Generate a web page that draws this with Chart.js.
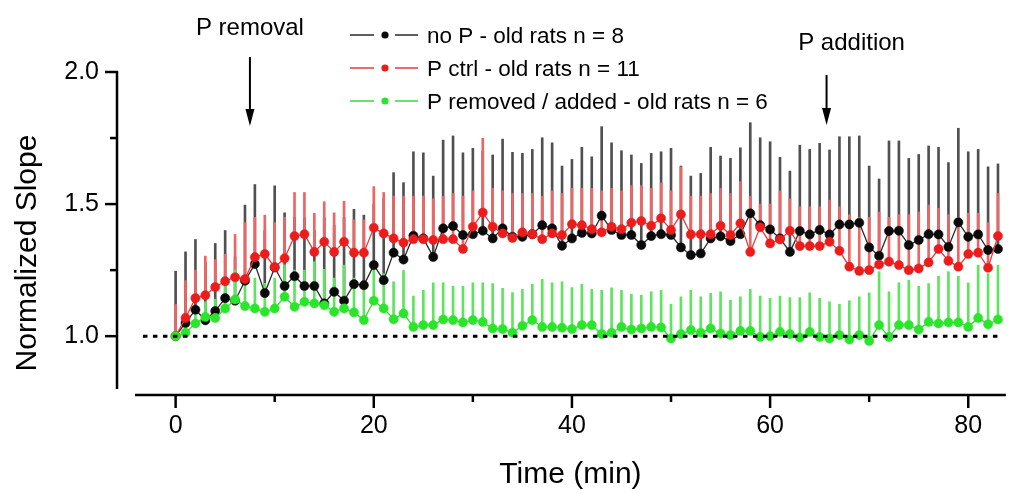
<!DOCTYPE html>
<html><head><meta charset="utf-8">
<script src="https://cdn.jsdelivr.net/npm/chart.js@4.4.1/dist/chart.umd.min.js"></script>
<style>html,body{margin:0;padding:0;background:#fff}#wrap{width:1011px;height:493px;position:relative}</style>
</head><body><div id="wrap"><canvas id="c"></canvas></div>
<script>
const times = [0,1,2,3,4,5,6,7,8,9,10,11,12,13,14,15,16,17,18,19,20,21,22,23,24,25,26,27,28,29,30,31,32,33,34,35,36,37,38,39,40,41,42,43,44,45,46,47,48,49,50,51,52,53,54,55,56,57,58,59,60,61,62,63,64,65,66,67,68,69,70,71,72,73,74,75,76,77,78,79,80,81,82,83];

const noPMean = [1.0,1.05,1.10,1.06,1.095,1.144,1.134,1.21,1.273,1.163,1.26,1.19,1.227,1.19,1.19,1.124,1.168,1.134,1.197,1.193,1.269,1.212,1.316,1.29,1.38,1.37,1.30,1.408,1.417,1.383,1.386,1.399,1.370,1.408,1.376,1.376,1.386,1.420,1.408,1.342,1.370,1.391,1.389,1.456,1.402,1.383,1.383,1.345,1.379,1.386,1.383,1.336,1.307,1.313,1.370,1.378,1.360,1.386,1.465,1.420,1.404,1.37,1.319,1.398,1.385,1.402,1.385,1.423,1.423,1.429,1.336,1.304,1.398,1.399,1.345,1.364,1.386,1.385,1.338,1.431,1.376,1.385,1.326,1.330];
const noPHigh = [1.246,1.319,1.366,1.28,1.351,1.40,1.30,1.496,1.574,1.40,1.569,1.467,1.45,1.45,1.40,1.45,1.42,1.45,1.48,1.458,1.50,1.52,1.619,1.581,1.698,1.694,1.606,1.742,1.758,1.694,1.711,1.70,1.686,1.746,1.696,1.692,1.707,1.751,1.732,1.644,1.669,1.715,1.679,1.793,1.732,1.702,1.686,1.654,1.692,1.698,1.711,1.644,1.606,1.616,1.715,1.682,1.673,1.713,1.808,1.751,1.736,1.677,1.625,1.723,1.707,1.730,1.705,1.755,1.755,1.758,1.644,1.595,1.739,1.739,1.673,1.688,1.720,1.715,1.657,1.787,1.698,1.707,1.641,1.652];

const ctrlMean = [1.0,1.069,1.144,1.155,1.186,1.208,1.223,1.216,1.299,1.311,1.261,1.295,1.379,1.386,1.319,1.357,1.319,1.357,1.316,1.316,1.410,1.389,1.370,1.354,1.367,1.367,1.364,1.367,1.367,1.330,1.414,1.468,1.414,1.389,1.372,1.393,1.386,1.367,1.389,1.383,1.424,1.420,1.405,1.393,1.414,1.405,1.429,1.436,1.418,1.446,1.402,1.461,1.385,1.386,1.386,1.418,1.383,1.427,1.319,1.412,1.351,1.366,1.399,1.341,1.341,1.341,1.357,1.323,1.263,1.247,1.25,1.271,1.282,1.269,1.25,1.256,1.279,1.330,1.285,1.263,1.311,1.316,1.259,1.379];
const ctrlHigh = [1.12,1.21,1.25,1.303,1.29,1.31,1.385,1.43,1.45,1.458,1.43,1.45,1.544,1.544,1.465,1.509,1.467,1.511,1.44,1.44,1.566,1.544,1.53,1.53,1.53,1.53,1.52,1.53,1.54,1.53,1.55,1.749,1.56,1.55,1.54,1.54,1.54,1.53,1.55,1.54,1.56,1.56,1.56,1.55,1.56,1.55,1.57,1.57,1.56,1.58,1.55,1.64,1.53,1.53,1.54,1.56,1.54,1.585,1.53,1.50,1.50,1.55,1.52,1.49,1.49,1.49,1.515,1.49,1.46,1.45,1.45,1.47,1.45,1.46,1.46,1.47,1.496,1.484,1.46,1.45,1.465,1.465,1.43,1.54];

const remMean = [1.0,1.013,1.048,1.073,1.069,1.105,1.139,1.114,1.105,1.092,1.105,1.149,1.111,1.130,1.124,1.117,1.092,1.105,1.090,1.061,1.134,1.105,1.064,1.086,1.035,1.042,1.042,1.063,1.061,1.052,1.061,1.054,1.029,1.027,1.013,1.039,1.061,1.035,1.035,1.032,1.027,1.042,1.042,1.008,1.013,1.035,1.025,1.029,1.035,1.033,0.991,1.008,1.023,1.013,1.029,1.010,1.004,1.020,1.020,0.997,1.0,1.016,1.008,0.995,1.016,0.997,0.991,1.004,0.987,1.004,0.982,1.042,0.997,1.042,1.042,1.025,1.054,1.048,1.052,1.052,1.035,1.069,1.045,1.063];
const remHigh = [1.0,1.04,1.10,1.13,1.14,1.19,1.25,1.20,1.22,1.20,1.22,1.27,1.25,1.25,1.282,1.253,1.22,1.269,1.22,1.20,1.27,1.237,1.206,1.25,1.152,1.174,1.202,1.202,1.189,1.189,1.202,1.202,1.199,1.181,1.165,1.177,1.197,1.215,1.202,1.206,1.184,1.197,1.177,1.174,1.183,1.174,1.159,1.155,1.168,1.174,1.121,1.149,1.174,1.149,1.162,1.168,1.136,1.149,1.177,1.152,1.143,1.152,1.146,1.146,1.164,1.143,1.130,1.121,1.134,1.149,1.164,1.244,1.168,1.202,1.212,1.189,1.199,1.227,1.244,1.227,1.202,1.269,1.237,1.269];

const seriesLabels = ['no P - old rats n = 8','P ctrl - old rats n = 11','P removed / added - old rats n = 6'];
const xTicks = [0,20,40,60,80];
const xMinorTicks = [10,30,50,70];
const yTicks = [1.0,1.5,2.0];
const yMinorTicks = [1.25,1.75];
const baseline = [{x:-3.3,y:1.0},{x:83.5,y:1.0}];
const removalTime = 7.5;
const additionTime = 65.7;

const FONT = '"Liberation Sans", Arial, sans-serif';
const colors = {
  black:{pt:'#0a0a0a', line:'#2a2a2a', bar:'#505050'},
  red:{pt:'#ec1c1c', line:'#e83a3a', bar:'#f06464'},
  green:{pt:'#2ae62a', line:'#3ad83a', bar:'#5ee45e'}
};

function pts(arr){ return times.map((t,i)=>({x:t,y:arr[i]})); }
function bars(lo,hi){ return times.map((t,i)=>({x:t,y:[lo[i],hi[i]]})); }

function lineDs(label,arr,c,order){
  return {type:'line',label,data:pts(arr),borderColor:c.line,borderWidth:1.3,
    pointRadius:4.6,pointBackgroundColor:c.pt,pointBorderColor:c.pt,pointBorderWidth:0.5,
    tension:0,order};
}
function barDs(lo,hi,c,order){
  return {type:'bar',data:bars(lo,hi),backgroundColor:c.bar,borderWidth:0,barThickness:2,grouped:false,order};
}

const deco = {
  id:'deco',
  afterDraw(chart){
    const {ctx, scales:{x,y}, chartArea:a} = chart;
    ctx.save();
    ctx.strokeStyle='#000'; ctx.fillStyle='#000'; ctx.lineWidth=2.5;
    const yAx = a.left-18, xAy = a.bottom+6;
    ctx.beginPath(); ctx.moveTo(yAx, a.top-1); ctx.lineTo(yAx, a.bottom); ctx.stroke();
    yTicks.forEach(v=>{const p=y.getPixelForValue(v); ctx.beginPath(); ctx.moveTo(yAx+1,p); ctx.lineTo(yAx-12,p); ctx.stroke();});
    yMinorTicks.forEach(v=>{const p=y.getPixelForValue(v); ctx.beginPath(); ctx.moveTo(yAx,p); ctx.lineTo(yAx-7,p); ctx.stroke();});
    ctx.beginPath(); ctx.moveTo(a.left, xAy); ctx.lineTo(a.right, xAy); ctx.stroke();
    xTicks.forEach(v=>{const p=x.getPixelForValue(v); ctx.beginPath(); ctx.moveTo(p,xAy); ctx.lineTo(p,xAy+13); ctx.stroke();});
    xMinorTicks.forEach(v=>{const p=x.getPixelForValue(v); ctx.beginPath(); ctx.moveTo(p,xAy); ctx.lineTo(p,xAy+7); ctx.stroke();});

    function arrow(px, y0, y1){
      ctx.lineWidth=2; ctx.beginPath(); ctx.moveTo(px,y0); ctx.lineTo(px,y1-14); ctx.stroke();
      ctx.beginPath(); ctx.moveTo(px-4.5,y1-17); ctx.lineTo(px+4.5,y1-17); ctx.lineTo(px,y1); ctx.closePath(); ctx.fill();
    }
    const rx = x.getPixelForValue(removalTime), ax = x.getPixelForValue(additionTime);
    arrow(rx, 57, 126);
    arrow(ax, 75, 125);
    ctx.font = '24px '+FONT; ctx.textAlign='center'; ctx.textBaseline='middle';
    ctx.fillText('P removal', rx, 28);
    ctx.fillText('P addition', ax+25, 43);

    const items = [colors.black, colors.red, colors.green];
    const ly = [35, 68, 101];
    ctx.font = '22.5px '+FONT; ctx.textAlign='left';
    items.forEach((c,i)=>{
      ctx.strokeStyle=c.line; ctx.lineWidth=1.3;
      ctx.beginPath(); ctx.moveTo(350,ly[i]); ctx.lineTo(374,ly[i]); ctx.moveTo(395,ly[i]); ctx.lineTo(418,ly[i]); ctx.stroke();
      ctx.fillStyle=c.pt; ctx.beginPath(); ctx.arc(385,ly[i],3.6,0,Math.PI*2); ctx.fill();
      ctx.fillStyle='#000'; ctx.fillText(seriesLabels[i], 427, ly[i]+2);
    });
    ctx.restore();
  }
};

new Chart(document.getElementById('c'), {
  type:'line',
  data:{datasets:[
    {type:'line',data:baseline,borderColor:'#000',borderWidth:3,borderDash:[4.5,5.5],pointRadius:0,order:0},
    lineDs(seriesLabels[2],remMean,colors.green,1),
    lineDs(seriesLabels[1],ctrlMean,colors.red,2),
    lineDs(seriesLabels[0],noPMean,colors.black,3),
    barDs(remMean,remHigh,colors.green,4),
    barDs(ctrlMean,ctrlHigh,colors.red,5),
    barDs(noPMean,noPHigh,colors.black,6)
  ]},
  options:{
    responsive:true, maintainAspectRatio:false, animation:false,
    layout:{padding:{top:72,right:0,left:0,bottom:0}},
    plugins:{legend:{display:false},tooltip:{enabled:false}},
    scales:{
      x:{type:'linear',min:-4.1,max:83.8,offset:false,
        grid:{display:false,drawTicks:false,offset:false},border:{display:false},
        afterFit:s=>{s.height=104;},
        afterBuildTicks:s=>{s.ticks=xTicks.map(v=>({value:v}));},
        ticks:{padding:22,color:'#000',font:{family:FONT,size:25},maxRotation:0,callback:v=>String(v)},
        title:{display:true,text:'Time (min)',color:'#000',font:{family:FONT,size:30},padding:{top:0,bottom:0}}
      },
      y:{type:'linear',min:0.8,max:2.0,
        grid:{display:false,drawTicks:false},border:{display:false},
        afterFit:s=>{s.width=135;},
        afterBuildTicks:s=>{s.ticks=yTicks.map(v=>({value:v}));},
        ticks:{padding:36,color:'#000',font:{family:FONT,size:25},callback:v=>Number(v).toFixed(1)},
        title:{display:true,text:'Normalized Slope\u2002\u2002\u2002',color:'#000',font:{family:FONT,size:30},padding:{top:10,bottom:0}}
      }
    }
  },
  plugins:[deco]
});
</script></body></html>
